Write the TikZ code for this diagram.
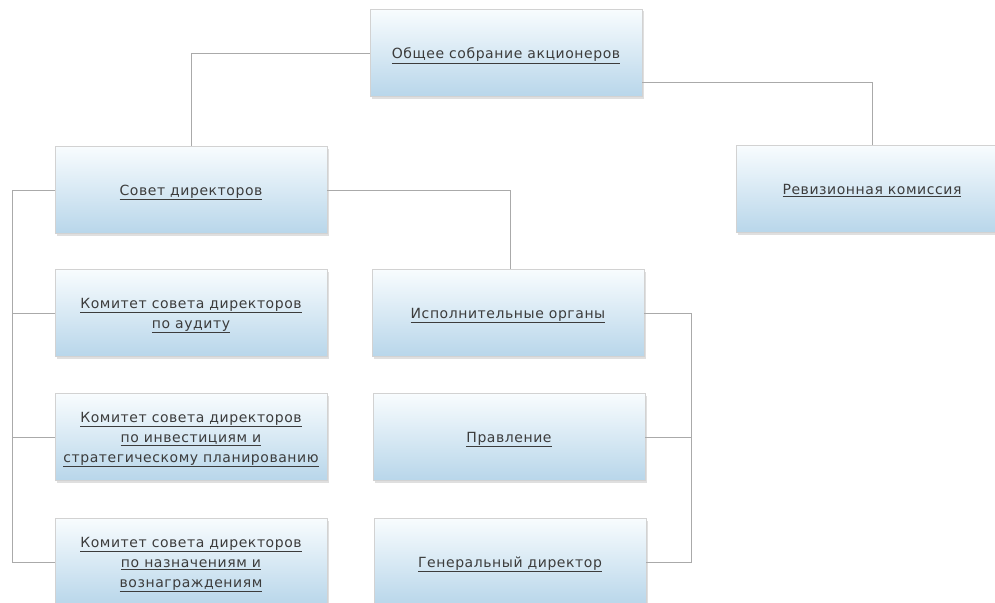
\documentclass[tikz,border=0pt]{standalone}
\usepackage{fontspec}
\setmainfont[LetterSpace=4]{DejaVu Sans}
\usepackage{tikz}
\usetikzlibrary{calc,shadows}
\usepackage{xcolor}
\definecolor{boxBlue}{RGB}{184, 214, 234}
\definecolor{boxTop}{RGB}{248, 252, 254}
\definecolor{lineGray}{RGB}{170, 170, 170}
\definecolor{textGray}{RGB}{60, 60, 60}

\newcommand{\ul}[1]{\underline{#1}}

\begin{document}
\begin{tikzpicture}[x=1pt, y=-1pt,
        unit/.style={draw=gray!35, top color=boxTop, bottom color=boxBlue,
            minimum width=272pt, minimum height=87pt, align=center,
            text=textGray, font=\fontsize{14}{20}\selectfont, text depth=0pt,
            drop shadow={shadow xshift=2pt, shadow yshift=-2pt, opacity=0.25, fill=gray}},
        link/.style={draw=lineGray, line width=0.8pt}]
        \useasboundingbox (0,0) rectangle (995,602);

        % boxes
        \node[unit] (meeting) at (506, 53) {\ul{Общее собрание акционеров}};
        \node[unit] (board) at (191, 190) {\ul{Совет директоров}};
        \node[unit] (audit) at (872, 189) {\ul{Ревизионная комиссия}};

        \node[unit] (cAudit) at (191, 313) {\ul{Комитет совета директоров}\\ \ul{по аудиту}};
        \node[unit] (cInvest) at (191, 437) {\ul{Комитет совета директоров}\\ \ul{по инвестициям и}\\ \ul{стратегическому планированию}};
        \node[unit] (cNominate) at (191, 562) {\ul{Комитет совета директоров}\\ \ul{по назначениям и}\\ \ul{вознаграждениям}};

        \node[unit] (exec) at (508, 313) {\ul{Исполнительные органы}};
        \node[unit] (mgmt) at (509, 437) {\ul{Правление}};
        \node[unit] (ceo) at (510, 562) {\ul{Генеральный директор}};

        % bus points
        \coordinate (lbus) at (12, 190);
        \coordinate (rbus) at (691, 313);

        % connectors
        \draw[link] (meeting.west) -| (board.north);
        \draw[link] ([yshift=-29pt]meeting.east) -| (audit.north);
        \draw[link] (board.east) -| ([xshift=2pt]exec.north);

        \draw[link] (board.west) -- (lbus) |- (cNominate.west);
        \draw[link] (lbus |- cAudit.west) -- (cAudit.west);
        \draw[link] (lbus |- cInvest.west) -- (cInvest.west);

        \draw[link] (exec.east) -- (rbus) |- (ceo.east);
        \draw[link] (rbus |- mgmt.east) -- (mgmt.east);
    \end{tikzpicture}
\end{document}
